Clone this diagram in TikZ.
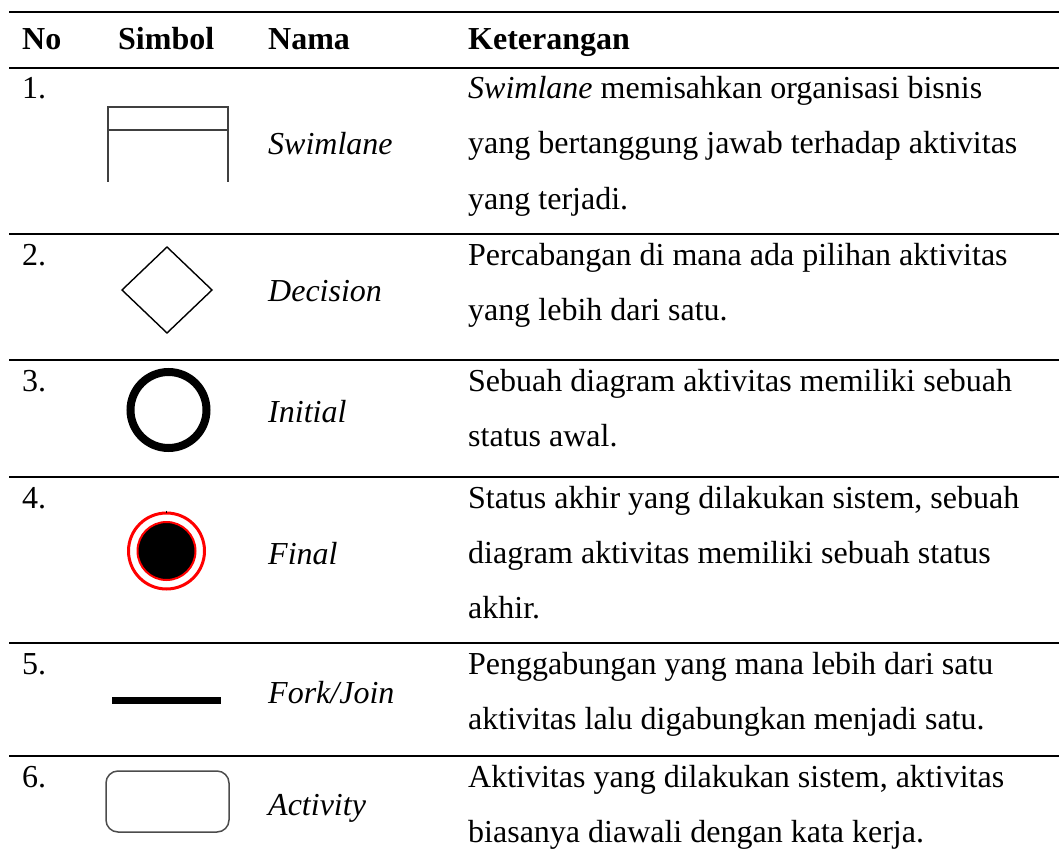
\documentclass[tikz,border=0pt]{standalone}
\usepackage{fontspec}
\setmainfont{Liberation Serif}
\begin{document}
\begin{tikzpicture}[x=1pt,y=-1pt,
  txt/.style={anchor=base west,inner sep=0pt,font=\fontsize{32}{38}\selectfont},
  hd/.style={txt,font=\fontsize{32}{38}\selectfont\bfseries},
  nm/.style={txt,font=\fontsize{32}{38}\selectfont\itshape},
  rule/.style={line width=2.2pt},
  symline/.style={draw=black!75,line width=1.5pt},
]
\useasboundingbox (0,0) rectangle (1059,861);

% table rules
\draw[rule] (9,12) -- (1059,12);
\draw[rule] (9,68) -- (1059,68);
\draw[rule] (9,234) -- (1059,234);
\draw[rule] (9,360) -- (1059,360);
\draw[rule] (9,477) -- (1059,477);
\draw[rule] (9,643) -- (1059,643);
\draw[rule] (9,756) -- (1059,756);

% header
\node[hd] (hno)  at (22,50)  {No};
\node[hd] (hsym) at (118,50) {Simbol};
\node[hd] (hnm)  at (268,50) {Nama};
\node[hd] (hket) at (468,50) {Keterangan};

% row numbers
\node[txt] (n1) at (22,99)  {1.};
\node[txt] (n2) at (22,265) {2.};
\node[txt] (n3) at (22,391) {3.};
\node[txt] (n4) at (22,508) {4.};
\node[txt] (n5) at (22,674) {5.};
\node[txt] (n6) at (22,787) {6.};

% names
\node[nm] (m1) at (268,155) {Swimlane};
\node[nm] (m2) at (268,301) {Decision};
\node[nm] (m3) at (268,422) {Initial};
\node[nm] (m4) at (268,564) {Final};
\node[nm] (m5) at (268,703) {Fork/Join};
\node[nm] (m6) at (268,815) {Activity};

% descriptions
\node[txt] (k1a) at (468,99)  {\textit{Swimlane} memisahkan organisasi bisnis};
\node[txt] (k1b) at (468,154) {yang bertanggung jawab terhadap aktivitas};
\node[txt] (k1c) at (468,209) {yang terjadi.};
\node[txt] (k2a) at (468,265) {Percabangan di mana ada pilihan aktivitas};
\node[txt] (k2b) at (468,320) {yang lebih dari satu.};
\node[txt] (k3a) at (468,391) {Sebuah diagram aktivitas memiliki sebuah};
\node[txt] (k3b) at (468,446) {status awal.};
\node[txt] (k4a) at (468,508) {Status akhir yang dilakukan sistem, sebuah};
\node[txt] (k4b) at (468,563) {diagram aktivitas memiliki sebuah status};
\node[txt] (k4c) at (468,618) {akhir.};
\node[txt] (k5a) at (468,674) {Penggabungan yang mana lebih dari satu};
\node[txt] (k5b) at (468,729) {aktivitas lalu digabungkan menjadi satu.};
\node[txt] (k6a) at (468,787) {Aktivitas yang dilakukan sistem, aktivitas};
\node[txt] (k6b) at (468,842) {biasanya diawali dengan kata kerja.};

% swimlane symbol
\draw[symline] (108,182) -- (108,107) -- (228,107) -- (228,182);
\draw[symline] (108,130) -- (228,130);

% decision symbol
\draw[line width=1.4pt] (167,247) -- (212,290) -- (167,333) -- (122,290) -- cycle;

% initial symbol
\draw[line width=8pt] (168.5,410) circle[radius=38];

% final symbol
\draw[red,line width=3pt] (166.5,551) circle[radius=38];
\fill[black] (166.5,551) circle[radius=29];
\draw[red,line width=2pt] (166.5,551) circle[radius=29];
\draw[black,line width=1.2pt] (166.7,510.5) -- (166.7,513);

% fork/join bar
\fill[black] (112,696.5) rectangle (221,703.5);

% activity symbol
\draw[draw=black!70,line width=1.5pt,rounded corners=12pt] (106,771) rectangle (229,832);
\end{tikzpicture}
\end{document}
